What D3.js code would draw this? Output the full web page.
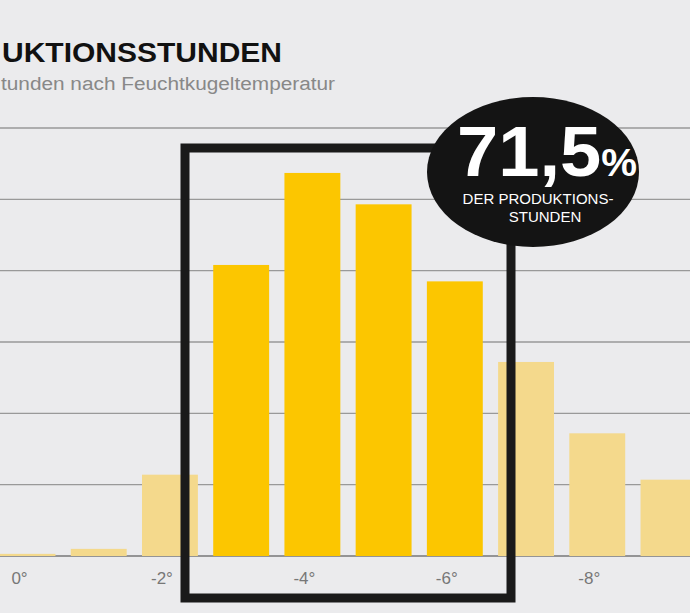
<!DOCTYPE html><html><head><meta charset="utf-8"><script src="https://d3js.org/d3.v7.min.js"></script>
<style>body{margin:0;background:#ebebed}svg{display:block}</style></head><body><svg width="690" height="613"></svg>
<script>
const categories=["0°","-1°","-2°","-3°","-4°","-5°","-6°","-7°","-8°","-9°"];
const values=[0.3,1.0,11.4,40.8,53.7,49.3,38.5,27.2,17.2,10.7];
const highlighted=[false,false,false,true,true,true,true,false,false,false];
const tickLabels=["0°","-2°","-4°","-6°","-8°"];
const gridValues=[0,10,20,30,40,50,60];
const svg=d3.select("svg");
svg.append("rect").attr("width",690).attr("height",613).attr("fill","#ebebed");
const x=d3.scaleBand().domain(categories).range([-4,700]).paddingInner(0.215).paddingOuter(0.05);
const y=d3.scaleLinear().domain([0,60]).range([556,128]);
svg.selectAll(".g").data(gridValues).join("line").attr("x1",0).attr("x2",690)
 .attr("y1",d=>y(d)).attr("y2",d=>y(d)).attr("stroke",d=>d===0?"#777":"#999").attr("stroke-width",1.3);
svg.selectAll(".b").data(values).join("rect").attr("x",(d,i)=>x(categories[i])).attr("width",x.bandwidth())
 .attr("y",d=>y(d)).attr("height",d=>y(0)-y(d)).attr("fill",(d,i)=>highlighted[i]?"#fcc600":"#f4d98c");
svg.selectAll(".t").data(tickLabels).join("text").attr("x",d=>x(d)+x.bandwidth()/2-8).attr("y",584)
 .attr("text-anchor","middle").attr("font-family","Liberation Sans, Arial").attr("font-size",17)
 .attr("fill","#777").text(d=>d);
svg.append("rect").attr("x",185).attr("y",148).attr("width",326).attr("height",450).attr("fill","none")
 .attr("stroke","#1a1a1a").attr("stroke-width",9);
svg.append("ellipse").attr("cx",533).attr("cy",172).attr("rx",106).attr("ry",75).attr("fill","#141414");
svg.append("text").attr("x",457).attr("y",176).attr("fill","#fff")
 .attr("font-family","Liberation Sans, Arial").attr("font-weight","bold").attr("font-size",70)
 .attr("textLength",180).attr("lengthAdjust","spacingAndGlyphs").html('71,5<tspan font-size="38">%</tspan>');
svg.append("text").attr("x",538).attr("y",204).attr("text-anchor","middle").attr("fill","#fff")
 .attr("font-family","Liberation Sans, Arial").attr("font-size",15).text("DER PRODUKTIONS-");
svg.append("text").attr("x",545).attr("y",222).attr("text-anchor","middle").attr("fill","#fff")
 .attr("font-family","Liberation Sans, Arial").attr("font-size",15).text("STUNDEN");
svg.append("text").attr("x",2).attr("y",62).attr("font-family","Liberation Sans, Arial")
 .attr("font-weight","bold").attr("font-size",28).attr("fill","#111")
 .attr("textLength",280).attr("lengthAdjust","spacingAndGlyphs").text("UKTIONSSTUNDEN");
svg.append("text").attr("x",1).attr("y",90).attr("font-family","Liberation Sans, Arial")
 .attr("font-size",18).attr("fill","#888").attr("textLength",334).attr("lengthAdjust","spacingAndGlyphs")
 .text("tunden nach Feuchtkugeltemperatur");
</script></body></html>
